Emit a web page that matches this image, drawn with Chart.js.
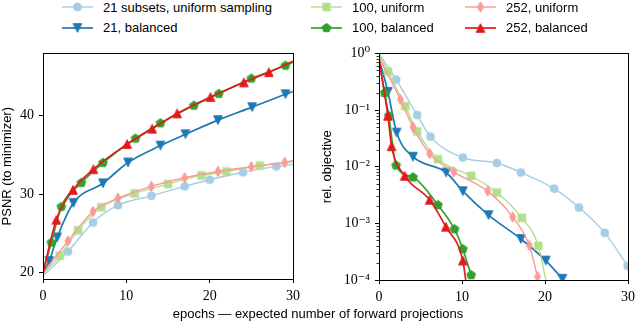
<!DOCTYPE html>
<html>
<head>
<meta charset="utf-8">
<script src="https://cdn.jsdelivr.net/npm/chart.js@4.4.1/dist/chart.umd.min.js"></script>
<style>
    body { margin: 0; width: 640px; height: 323px; background: #fff; position: relative; overflow: hidden;
           font-family: 'Liberation Sans', Arial, sans-serif; }
    .box { position: absolute; top: 40px; height: 283px; }
    #leftBox { left: 0; width: 305px; }
    #rightBox { left: 320px; width: 320px; }
    .legend-item { position: absolute; display: flex; align-items: center; height: 16px;
                   font-size: 13px; color: #000; white-space: nowrap; }
    .legend-item canvas { margin-right: 10px; }
    #xlabel { position: absolute; left: 0; width: 636px; top: 306px; text-align: center; font-size: 13px; }
</style>
</head>
<body>
<div class="box" id="leftBox"><canvas id="psnrChart"></canvas></div>
<div class="box" id="rightBox"><canvas id="objChart"></canvas></div>
<div id="xlabel">epochs — expected number of forward projections</div>
<script>
// Series labels (legend order)
const seriesNames = ['21 subsets, uniform sampling', '21, balanced', '100, uniform',
                     '100, balanced', '252, uniform', '252, balanced'];

// Left panel: PSNR (to minimizer) vs epochs
const psnr21uX = [0, 3, 6, 9, 13, 17, 20, 24, 28, 30];
const psnr21uY = [19.6, 22.7, 26.4, 28.6, 29.8, 31.0, 31.85, 32.8, 33.55, 33.8];
const psnr21bX = [0, 0.75, 1.7, 3.65, 7.2, 10.2, 14.1, 17.1, 21, 25.1, 29.1, 30];
const psnr21bY = [20, 21.5, 24.5, 28.9, 31.4, 34.05, 36.2, 37.65, 39.45, 41.1, 42.75, 43.1];
const psnr100uX = [0, 2, 4.2, 7, 11, 15, 19, 22, 26, 30];
const psnr100uY = [19.8, 22.15, 25.4, 28.35, 30.1, 31.3, 32.4, 32.9, 33.65, 34.15];
const psnr100bX = [0, 1, 2.2, 4.6, 7.2, 11.1, 14.1, 18.1, 21.1, 25, 29.1, 30];
const psnr100bY = [20, 23.85, 28.4, 31.45, 34.0, 37.1, 39.05, 41.3, 42.8, 44.75, 46.4, 46.85];
const psnr252uX = [0, 3, 6, 9, 13, 17, 21, 25, 29, 30];
const psnr252uY = [19.9, 24.05, 27.8, 29.5, 31.0, 32.1, 32.9, 33.5, 34.05, 34.3];
const psnr252bX = [0, 1.6, 3.6, 6.05, 10.1, 13.1, 16.1, 20.1, 24.1, 27.1, 30];
const psnr252bY = [20, 26.75, 30.55, 33.2, 36.4, 38.35, 40.3, 42.4, 44.25, 45.55, 46.95];

// Right panel: relative objective vs epochs
const obj21uX = [0, 2.06, 4.6, 6.2, 10.1, 14.2, 17.1, 21.1, 24.1, 27.2, 29.95];
const obj21uY = [1.0, 0.345, 0.082, 0.034, 0.0145, 0.0116, 0.0079, 0.0041, 0.0019, 0.00068, 0.000178];
const obj21bX = [0, 1.07, 2.13, 4.1, 8.1, 10.1, 13.2, 17.1, 20.1, 22.1];
const obj21bY = [0.8, 0.21, 0.04, 0.015, 0.0079, 0.0037, 0.0014, 0.00053, 0.00022, 0.000105];
const obj100uX = [0, 1.07, 3.16, 4.6, 7.1, 11.1, 14.2, 17.2, 19.2, 20.1];
const obj100uY = [0.95, 0.48, 0.117, 0.042, 0.0136, 0.0069, 0.0035, 0.00125, 0.0004, 0.0001];
const obj100bX = [0, 0.67, 1.18, 2.06, 4.1, 7.1, 9.1, 10.1, 11.1];
const obj100bY = [0.8, 0.2, 0.079, 0.0105, 0.0065, 0.0021, 0.00079, 0.00035, 0.000122];
const obj252uX = [0, 2.57, 4.1, 6.1, 9.0, 13.1, 16.1, 18.1, 19.1];
const obj252uY = [0.85, 0.154, 0.05, 0.017, 0.0081, 0.0037, 0.0013, 0.00041, 0.000115];
const obj252bX = [0, 1.07, 1.52, 3.1, 6.1, 8.05, 10.1, 10.45];
const obj252bY = [0.8, 0.079, 0.023, 0.0069, 0.0026, 0.00087, 0.00022, 0.0001];

// Axis ticks
const epochTicks = [0, 10, 20, 30];
const psnrTicks = [20, 30, 40];
const objDecades = [-4, -3, -2, -1, 0];

// Styles
const colors = ['#a6cee3', '#1f78b4', '#b2df8a', '#33a02c', '#fb9a99', '#e31a1c'];
const shapes = ['circle', 'triDown', 'square', 'pentagon', 'thinDiamond', 'triUp'];
const widths = [1.4, 1.7, 1.4, 1.7, 1.4, 1.7];

const serif = "'Liberation Serif', 'DejaVu Serif', serif";
const sans = "'Liberation Sans', Arial, sans-serif";

function makeMarker(shape, color) {
    const c = document.createElement('canvas');
    c.width = 12; c.height = 12;
    const g = c.getContext('2d');
    g.fillStyle = color;
    g.strokeStyle = color;
    g.lineWidth = 1;
    g.translate(6, 6);
    g.beginPath();
    const poly = pts => { g.moveTo(pts[0][0], pts[0][1]); pts.slice(1).forEach(p => g.lineTo(p[0], p[1])); };
    if (shape === 'circle') g.arc(0, 0, 4, 0, Math.PI * 2);
    else if (shape === 'square') g.rect(-3.8, -3.8, 7.6, 7.6);
    else if (shape === 'triUp') poly([[0, -4.3], [4.3, 4.3], [-4.3, 4.3]]);
    else if (shape === 'triDown') poly([[0, 4.3], [4.3, -4.3], [-4.3, -4.3]]);
    else if (shape === 'thinDiamond') poly([[0, -5.2], [3, 0], [0, 5.2], [-3, 0]]);
    else if (shape === 'pentagon') {
        const pts = [];
        for (let k = 0; k < 5; k++) {
            const a = -Math.PI / 2 + k * 2 * Math.PI / 5;
            pts.push([4.6 * Math.cos(a), 4.6 * Math.sin(a)]);
        }
        poly(pts);
    }
    g.closePath();
    g.fill();
    g.stroke();
    return c;
}

const markers = colors.map((c, i) => makeMarker(shapes[i], c));

function toPoints(xs, ys) {
    return xs.map((x, i) => ({ x: x, y: ys[i] }));
}

function buildDatasets(xsList, ysList, yMin) {
    return xsList.map((xs, i) => ({
        label: seriesNames[i],
        data: toPoints(xs, ysList[i]),
        borderColor: colors[i],
        backgroundColor: colors[i],
        borderWidth: widths[i],
        pointStyle: markers[i],
        // endpoints sitting on the axis limits carry no marker
        pointRadius: ctx => {
            const p = ctx.raw;
            return (p.x <= 0 || p.x >= 30 || p.y <= yMin) ? 0 : 4;
        },
        cubicInterpolationMode: 'monotone',
        order: xsList.length - 1 - i
    }));
}

const isPow10 = v => Math.abs(Math.log10(v) - Math.round(Math.log10(v))) < 1e-9;
const supDigits = { '-': '⁻', '0': '⁰', '1': '¹', '2': '²', '3': '³', '4': '⁴', '5': '⁵' };

// Frame around the plot area, drawn on top like matplotlib spines
const framePlugin = {
    id: 'frame',
    afterDraw(chart) {
        const { ctx, chartArea: a } = chart;
        ctx.save();
        ctx.strokeStyle = '#000';
        ctx.lineWidth = 1;
        ctx.strokeRect(Math.round(a.left) + 0.5, Math.round(a.top) + 0.5,
                       Math.round(a.right - a.left), Math.round(a.bottom - a.top));
        ctx.restore();
    }
};

// Short minor ticks for the log axis
const minorTickPlugin = {
    id: 'minorTicks',
    afterDraw(chart) {
        const s = chart.scales.y;
        if (s.type !== 'logarithmic') return;
        const ctx = chart.ctx;
        const left = Math.round(chart.chartArea.left);
        ctx.save();
        ctx.strokeStyle = '#000';
        ctx.lineWidth = 0.8;
        s.ticks.forEach(t => {
            if (isPow10(t.value)) return;
            const py = Math.round(s.getPixelForValue(t.value)) + 0.5;
            ctx.beginPath();
            ctx.moveTo(left, py);
            ctx.lineTo(left - 2.5, py);
            ctx.stroke();
        });
        ctx.restore();
    }
};

function xScale(height) {
    return {
        type: 'linear',
        min: 0,
        max: 30,
        afterBuildTicks: s => { s.ticks = epochTicks.map(v => ({ value: v })); },
        afterFit: s => { s.height = height; },
        border: { display: false },
        grid: { drawOnChartArea: false, tickLength: 4, tickColor: '#000', tickWidth: 1 },
        ticks: { color: '#000', padding: 5, font: { family: serif, size: 14 }, maxRotation: 0 }
    };
}

function yTitle(text) {
    return { display: true, text: text, color: '#000', padding: { top: 0, bottom: 0 },
             font: { family: sans, size: 13 } };
}

Chart.defaults.animation = false;
Chart.defaults.events = [];

new Chart(document.getElementById('psnrChart'), {
    type: 'line',
    data: {
        datasets: buildDatasets(
            [psnr21uX, psnr21bX, psnr100uX, psnr100bX, psnr252uX, psnr252bX],
            [psnr21uY, psnr21bY, psnr100uY, psnr100bY, psnr252uY, psnr252bY], -1)
    },
    options: {
        responsive: true,
        maintainAspectRatio: false,
        layout: { padding: { top: 12, right: 7, bottom: 0, left: 0 } },
        plugins: { legend: { display: false }, tooltip: { enabled: false } },
        scales: {
            x: xScale(44),
            y: {
                type: 'linear',
                min: 19.2,
                max: 47.95,
                afterBuildTicks: s => { s.ticks = psnrTicks.map(v => ({ value: v })); },
                afterFit: s => { s.width = 43; },
                border: { display: false },
                title: yTitle('PSNR (to minimizer)'),
                grid: { drawOnChartArea: false, tickLength: 4, tickColor: '#000', tickWidth: 1 },
                ticks: { color: '#000', padding: 5, font: { family: serif, size: 14 } }
            }
        }
    },
    plugins: [framePlugin]
});

new Chart(document.getElementById('objChart'), {
    type: 'line',
    data: {
        datasets: buildDatasets(
            [obj21uX, obj21bX, obj100uX, obj100bX, obj252uX, obj252bX],
            [obj21uY, obj21bY, obj100uY, obj100bY, obj252uY, obj252bY], 1e-4)
    },
    options: {
        responsive: true,
        maintainAspectRatio: false,
        layout: { padding: { top: 12, right: 7, bottom: 0, left: 0 } },
        plugins: { legend: { display: false }, tooltip: { enabled: false } },
        scales: {
            x: xScale(43),
            y: {
                type: 'logarithmic',
                min: 1e-4,
                max: 1,
                afterBuildTicks: s => {
                    const ticks = [];
                    objDecades.forEach(e => {
                        const top = e === 0 ? 1 : 9;
                        for (let m = 1; m <= top; m++) ticks.push({ value: m * Math.pow(10, e) });
                    });
                    s.ticks = ticks;
                },
                afterFit: s => { s.width = 59; },
                border: { display: false },
                title: yTitle('rel. objective'),
                grid: {
                    drawOnChartArea: false, tickLength: 4, tickWidth: 1,
                    tickColor: c => (c.tick && isPow10(c.tick.value)) ? '#000' : 'rgba(0,0,0,0)'
                },
                ticks: {
                    color: '#000', padding: 5, autoSkip: false, font: { family: serif, size: 14 },
                    callback: v => {
                        if (!isPow10(v)) return '';
                        const e = String(Math.round(Math.log10(v)));
                        return '10' + e.split('').map(ch => supDigits[ch]).join('');
                    }
                }
            }
        }
    },
    plugins: [framePlugin, minorTickPlugin]
});

// Legend: three columns, two rows, column-major like the figure
const legendCols = [62, 311, 465];
const legendRows = [-1, 19.5];
seriesNames.forEach((name, i) => {
    const item = document.createElement('div');
    item.className = 'legend-item';
    item.style.left = legendCols[Math.floor(i / 2)] + 'px';
    item.style.top = legendRows[i % 2] + 'px';
    const c = document.createElement('canvas');
    c.width = 31; c.height = 16;
    const g = c.getContext('2d');
    g.strokeStyle = colors[i];
    g.lineWidth = widths[i];
    g.beginPath();
    g.moveTo(0, 8);
    g.lineTo(31, 8);
    g.stroke();
    g.drawImage(markers[i], 15.5 - markers[i].width / 2, 8 - markers[i].height / 2);
    const label = document.createElement('span');
    label.textContent = name;
    item.appendChild(c);
    item.appendChild(label);
    document.body.appendChild(item);
});
</script>
</body>
</html>
